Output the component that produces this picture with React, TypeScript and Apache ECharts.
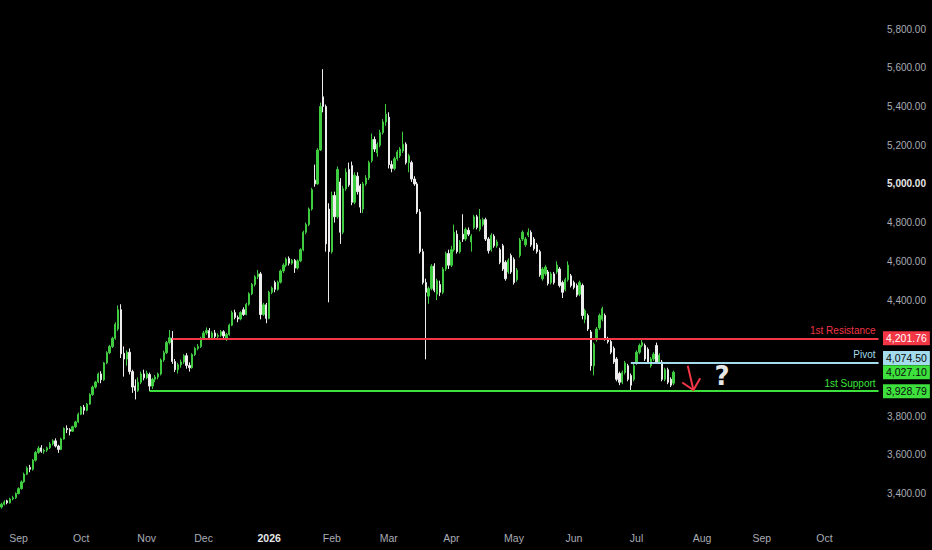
import React, { useEffect, useRef } from 'react';
import * as echarts from 'echarts';

// ---------- categories: trading days (weekdays) ----------
const FIRST_DAY = '2025-08-22';
const CATEGORY_COUNT = 309;
const MONTHS = ['Jan', 'Feb', 'Mar', 'Apr', 'May', 'Jun', 'Jul', 'Aug', 'Sep', 'Oct', 'Nov', 'Dec'];

function buildWeekdays(start: string, count: number): string[] {
  const out: string[] = [];
  let t = Date.parse(start + 'T00:00:00Z');
  while (out.length < count) {
    const d = new Date(t);
    const wd = d.getUTCDay();
    if (wd !== 0 && wd !== 6) out.push(d.toISOString().slice(0, 10));
    t += 86400000;
  }
  return out;
}
const categories = buildWeekdays(FIRST_DAY, CATEGORY_COUNT);

// ---------- candles: [open, close, low, high] ----------
const candlesSepOct = [
  [3330, 3345, 3322, 3352], [3345, 3356, 3338, 3365], [3362, 3352, 3344, 3368], [3352, 3372, 3348, 3378],
  [3372, 3378, 3365, 3388], [3378, 3400, 3372, 3406], [3400, 3425, 3395, 3432], [3425, 3460, 3420, 3468],
  [3460, 3500, 3455, 3508], [3500, 3532, 3495, 3540], [3535, 3525, 3510, 3548], [3525, 3572, 3518, 3578],
  [3572, 3612, 3565, 3620], [3612, 3634, 3605, 3645], [3636, 3618, 3610, 3650], [3618, 3624, 3605, 3632],
  [3624, 3636, 3615, 3642], [3636, 3656, 3630, 3665], [3656, 3672, 3648, 3680], [3672, 3645, 3638, 3685],
  [3645, 3628, 3610, 3652], [3628, 3682, 3624, 3688], [3682, 3736, 3678, 3742], [3736, 3730, 3712, 3752],
  [3730, 3722, 3700, 3738], [3722, 3745, 3718, 3750], [3745, 3770, 3738, 3776], [3770, 3810, 3765, 3818],
  [3810, 3846, 3805, 3852], [3846, 3830, 3808, 3858], [3830, 3862, 3825, 3868], [3862, 3912, 3858, 3918],
  [3912, 3950, 3905, 3958], [3950, 3976, 3942, 3982], [3976, 4018, 3970, 4025], [4018, 3988, 3970, 4032],
  [3988, 4075, 3982, 4080], [4075, 4128, 4068, 4135], [4128, 4160, 4120, 4168], [4160, 4202, 4152, 4210],
  [4202, 4275, 4195, 4285], [4250, 4350, 4240, 4372], [4350, 4122, 4100, 4378], [4125, 4095, 4004, 4160],
  [4095, 4130, 4060, 4140], [4130, 4030, 4015, 4150], [4030, 3950, 3920, 4040], [3955, 3932, 3886, 3990],
  [3932, 3975, 3925, 4000], [3975, 4018, 3965, 4030], [4018, 3998, 3985, 4040],
];
const candlesNovDec = [
  [3998, 4022, 3990, 4035], [4015, 3955, 3928.79, 4025], [3955, 3990, 3940, 3998], [3990, 4002, 3975, 4012],
  [4002, 4018, 3990, 4025], [4018, 4090, 4010, 4098], [4090, 4128, 4080, 4138], [4128, 4180, 4120, 4188],
  [4180, 4205, 4170, 4245], [4202, 4082, 4070, 4240], [4082, 4040, 4028, 4095], [4040, 4065, 4020, 4075],
  [4065, 4080, 4050, 4092], [4080, 4112, 4070, 4120], [4112, 4062, 4045, 4125], [4062, 4050, 4030, 4078],
  [4050, 4118, 4045, 4125], [4118, 4150, 4110, 4158], [4150, 4160, 4140, 4172], [4160, 4202, 4152, 4210],
  [4202, 4230, 4195, 4240], [4230, 4242, 4220, 4258], [4242, 4205, 4195, 4255], [4205, 4230, 4196, 4238],
  [4230, 4212, 4200, 4245], [4212, 4218, 4200, 4228], [4218, 4236, 4210, 4245], [4236, 4214, 4200, 4244],
  [4200, 4222, 4188, 4230], [4222, 4270, 4215, 4278], [4270, 4335, 4265, 4345], [4335, 4310, 4300, 4350],
  [4310, 4302, 4285, 4320], [4302, 4335, 4295, 4342], [4350, 4325, 4318, 4362], [4325, 4378, 4320, 4385],
  [4378, 4432, 4370, 4440], [4432, 4480, 4425, 4488], [4480, 4520, 4470, 4528], [4520, 4535, 4508, 4555],
  [4535, 4325, 4300, 4545], [4325, 4375, 4318, 4385], [4375, 4305, 4280, 4385],
];
const candlesJanFeb = [
  [4305, 4440, 4300, 4448], [4440, 4462, 4430, 4470], [4490, 4455, 4440, 4500], [4455, 4492, 4448, 4500],
  [4492, 4550, 4485, 4558], [4550, 4580, 4540, 4590], [4580, 4612, 4570, 4620], [4615, 4590, 4578, 4625],
  [4590, 4605, 4582, 4612], [4605, 4565, 4540, 4612], [4565, 4602, 4558, 4610], [4602, 4660, 4595, 4668],
  [4660, 4750, 4652, 4758], [4750, 4790, 4740, 4800], [4790, 4870, 4782, 4878], [4870, 4970, 4862, 4980],
  [5020, 5000, 4985, 5100], [5000, 5175, 4995, 5185], [5175, 5400, 5170, 5420], [5450, 5400, 5370, 5593],
  [5400, 4690, 4650, 5410], [4870, 4650, 4388, 4900], [4650, 4940, 4640, 4960], [4940, 4830, 4800, 4960],
  [4830, 5075, 4820, 5090], [5010, 4750, 4690, 5030], [4750, 4975, 4740, 4990], [4975, 5060, 4965, 5080],
  [5075, 4995, 4985, 5110], [5095, 4905, 4890, 5115], [4905, 5045, 4895, 5060], [5040, 4960, 4945, 5060],
  [4990, 4880, 4850, 5000], [4870, 5000, 4850, 5010], [5000, 5030, 4990, 5045], [5030, 5110, 5020, 5120],
  [5120, 5230, 5110, 5260], [5230, 5180, 5165, 5245], [5160, 5205, 5140, 5215], [5200, 5265, 5190, 5280],
  [5265, 5320, 5255, 5335], [5320, 5360, 5300, 5413],
];
const candlesMarApr = [
  [5345, 5100, 5080, 5370], [5100, 5080, 5060, 5120], [5080, 5130, 5070, 5140], [5130, 5165, 5120, 5175],
  [5145, 5180, 5135, 5190], [5170, 5205, 5160, 5270], [5205, 5110, 5100, 5215], [5110, 5145, 5060, 5155],
  [5110, 5025, 5010, 5120], [5025, 5000, 4990, 5040], [5000, 4855, 4845, 5010], [4855, 4650, 4640, 4870],
  [4650, 4490, 4480, 4665], [4490, 4440, 4093, 4510], [4420, 4460, 4380, 4470], [4460, 4575, 4450, 4585],
  [4575, 4450, 4440, 4590], [4430, 4500, 4400, 4510], [4480, 4440, 4420, 4500], [4440, 4560, 4430, 4570],
  [4560, 4640, 4550, 4650], [4640, 4580, 4560, 4660], [4580, 4660, 4570, 4680], [4660, 4750, 4650, 4790],
  [4740, 4650, 4640, 4760], [4650, 4700, 4640, 4710], [4740, 4715, 4700, 4843], [4715, 4765, 4705, 4775],
  [4760, 4740, 4730, 4775], [4700, 4730, 4650, 4740], [4775, 4830, 4765, 4840], [4830, 4775, 4765, 4840],
  [4765, 4815, 4755, 4870], [4790, 4815, 4780, 4825], [4815, 4715, 4705, 4825], [4715, 4655, 4640, 4725],
  [4660, 4735, 4650, 4745], [4730, 4680, 4670, 4740], [4680, 4700, 4670, 4712], [4660, 4595, 4585, 4670],
  [4680, 4560, 4550, 4690], [4595, 4510, 4500, 4605], [4545, 4605, 4535, 4615], [4630, 4545, 4535, 4640],
];
const candlesMayJul = [
  [4610, 4490, 4480, 4620], [4505, 4555, 4495, 4565], [4630, 4710, 4620, 4720], [4715, 4750, 4705, 4760],
  [4685, 4715, 4675, 4725], [4735, 4750, 4725, 4770], [4750, 4685, 4675, 4760], [4715, 4665, 4655, 4725],
  [4685, 4650, 4640, 4695], [4650, 4530, 4520, 4660], [4510, 4560, 4500, 4570], [4535, 4570, 4525, 4580],
  [4545, 4485, 4475, 4555], [4490, 4535, 4480, 4545], [4535, 4490, 4480, 4545], [4545, 4580, 4535, 4600],
  [4560, 4475, 4465, 4570], [4490, 4440, 4410, 4500], [4455, 4505, 4445, 4515], [4505, 4580, 4495, 4600],
  [4525, 4475, 4465, 4535], [4490, 4465, 4455, 4500], [4475, 4425, 4415, 4485], [4430, 4490, 4420, 4500],
  [4475, 4320, 4300, 4485], [4300, 4345, 4280, 4355], [4320, 4250, 4240, 4330], [4235, 4060, 4035, 4245],
  [4060, 4170, 4010, 4180], [4197, 4250, 4185, 4260], [4255, 4320, 4245, 4330], [4300, 4355, 4290, 4365],
  [4320, 4200, 4190, 4330], [4200, 4185, 4175, 4210], [4185, 4130, 4120, 4195], [4150, 4080, 4070, 4160],
  [4095, 3990, 3980, 4105], [4020, 3975, 3960, 4030], [3975, 4025, 3965, 4035], [4025, 4075, 4015, 4085],
  [4060, 3990, 3980, 4070], [4010, 3960, 3935, 4020], [3990, 4060, 3980, 4070], [4075, 4130, 4065, 4140],
  [4130, 4165, 4120, 4175], [4165, 4180, 4155, 4195], [4165, 4095, 4085, 4175], [4145, 4080, 4070, 4155],
  [4060, 4095, 4050, 4105], [4095, 4120, 4085, 4130], [4165, 4080, 4070, 4180], [4080, 4115, 4070, 4125],
  [4080, 3990, 3980, 4090], [3990, 4040, 3980, 4050], [4040, 3975, 3965, 4050], [3990, 3960, 3950, 4000],
  [3970, 4027.1, 3960, 4035],
];
const candles = [...candlesSepOct, ...candlesNovDec, ...candlesJanFeb, ...candlesMarApr, ...candlesMayJul];

// ---------- levels ----------
const levelNames = ['1st Resistance', 'Pivot', '1st Support'];
const levelValues = [4201.76, 4074.5, 3928.79];
const levelStartIndex = [60, 221, 52];
const levelColors = ['#f23645', '#a3dcec', '#3de03d'];
const levelTagText = ['#ffffff', '#0b0b0b', '#0b0b0b'];
const levelTagOffset = [0, -5, 0];
const lastPrice = 4027.1;
const lastPriceColor = '#3de03d';
// axis ticks hidden under the price tags
const coveredTicks = [4200, 4000];

// annotation anchors (category index, price)
const arrowFrom = [241, 4060];
const arrowTo = [243, 3935];
const questionAt = [253, 4005];

const Y_MIN = 3200;
const Y_MAX = 5950.4;
const Y_STEP = 200;

const FONT = "'Liberation Sans', Arial, sans-serif";
const fmtPrice = (v: number) =>
  v.toLocaleString('en-US', { minimumFractionDigits: 2, maximumFractionDigits: 2 });

export default function App() {
  const ref = useRef<HTMLDivElement>(null);
  useEffect(() => {
    document.body.style.margin = '0';
    document.body.style.background = '#000';
    const chart = echarts.init(ref.current!, undefined, { renderer: 'svg' });
    const lastCat = categories[categories.length - 1];

    const lineItems = levelNames.map((name, k) => [
      {
        coord: [categories[levelStartIndex[k]], levelValues[k]],
        lineStyle: { color: levelColors[k], width: 2, type: 'solid' },
        label: {
          show: true,
          position: 'insideEndTop',
          formatter: name,
          color: levelColors[k],
          fontSize: 10,
          fontFamily: FONT,
          distance: [3, 3],
        },
      },
      { coord: [lastCat, levelValues[k]] },
    ]);
    const tagItems = levelNames.map((_, k) => ({
      yAxis: levelValues[k],
      lineStyle: { color: 'transparent', width: 0 },
      label: {
        show: true,
        position: 'end',
        distance: 3,
        formatter: fmtPrice(levelValues[k]),
        backgroundColor: levelColors[k],
        color: levelTagText[k],
        fontSize: 10.5,
        fontFamily: FONT,
        padding: [2, 3, 1, 3],
        offset: [0, levelTagOffset[k]],
      },
    }));
    const lastTag = {
      yAxis: lastPrice,
      lineStyle: { color: 'transparent', width: 0 },
      label: {
        show: true,
        position: 'end',
        distance: 3,
        formatter: fmtPrice(lastPrice),
        backgroundColor: lastPriceColor,
        color: '#0b0b0b',
        fontSize: 10.5,
        fontFamily: FONT,
        padding: [2, 3, 1, 3],
      },
    };

    chart.setOption({
      animation: false,
      backgroundColor: '#000000',
      grid: { left: 0, right: 52, top: 0, bottom: 17.8 },
      xAxis: {
        type: 'category',
        data: categories,
        boundaryGap: true,
        axisLine: { show: false },
        axisTick: { show: false },
        splitLine: { show: false },
        axisLabel: {
          margin: 0,
          fontSize: 10.5,
          fontFamily: FONT,
          color: '#a9acb5',
          interval: (i: number, v: string) =>
            i > 0 && v.slice(5, 7) !== categories[i - 1].slice(5, 7),
          formatter: (v: string) => {
            const m = parseInt(v.slice(5, 7), 10) - 1;
            return m === 0 ? `{year|${v.slice(0, 4)}}` : MONTHS[m];
          },
          rich: { year: { fontWeight: 'bold', color: '#e6e6e6', fontSize: 10.5, fontFamily: FONT } },
        },
      },
      yAxis: {
        type: 'value',
        position: 'right',
        min: Y_MIN,
        max: Y_MAX,
        interval: Y_STEP,
        axisLine: { show: false },
        axisTick: { show: false },
        splitLine: { show: false },
        axisLabel: {
          align: 'right',
          margin: 46,
          fontSize: 10,
          fontFamily: FONT,
          color: '#a9acb5',
          formatter: (v: number) => {
            const r = Math.round(v);
            if (r < 3400 || r > 5800 || r % 200 !== 0 || coveredTicks.includes(r)) return '';
            const s = fmtPrice(r);
            return r % 1000 === 0 ? `{strong|${s}}` : s;
          },
          rich: { strong: { fontWeight: 'bold', color: '#e6e6e6', fontSize: 10, fontFamily: FONT } },
        },
      },
      series: [
        {
          type: 'candlestick',
          data: candles,
          barWidth: 1.8,
          itemStyle: {
            color: '#40cc40',
            color0: '#ededed',
            borderColor: '#40cc40',
            borderColor0: '#ededed',
            borderWidth: 1,
          },
          markLine: {
            silent: true,
            symbol: ['none', 'none'],
            animation: false,
            data: [...lineItems, ...tagItems, lastTag],
          },
        },
      ],
    });

    const px = (a: number[]) =>
      chart.convertToPixel({ gridIndex: 0 }, [categories[a[0]], a[1]]) as number[];
    const tail = px(arrowFrom);
    const tip = px(arrowTo);
    const dx = tail[0] - tip[0];
    const dy = tail[1] - tip[1];
    const len = Math.hypot(dx, dy);
    const ux = dx / len;
    const uy = dy / len;
    const wing = (ang: number) => {
      const c = Math.cos(ang);
      const s = Math.sin(ang);
      return [tip[0] + (ux * c - uy * s) * 13.5, tip[1] + (ux * s + uy * c) * 13.5];
    };
    const q = px(questionAt);
    chart.setOption({
      graphic: [
        {
          type: 'polyline',
          z: 100,
          shape: { points: [tail, tip] },
          style: { stroke: '#f23645', lineWidth: 2, fill: 'none' },
        },
        {
          type: 'polyline',
          z: 100,
          shape: { points: [wing(0.75), tip, wing(-0.75)] },
          style: { stroke: '#f23645', lineWidth: 2, fill: 'none' },
        },
        {
          type: 'text',
          z: 100,
          x: q[0],
          y: q[1],
          style: {
            text: '?',
            fill: '#e6e6e6',
            fontSize: 26,
            fontWeight: 'bold',
            fontFamily: "'DejaVu Sans', sans-serif",
            align: 'center',
            verticalAlign: 'middle',
          },
        },
      ],
    });
    return () => chart.dispose();
  }, []);
  return (
    <div
      ref={ref}
      style={{ position: 'absolute', left: 0, top: 0, width: 932, height: 550 }}
    />
  );
}
